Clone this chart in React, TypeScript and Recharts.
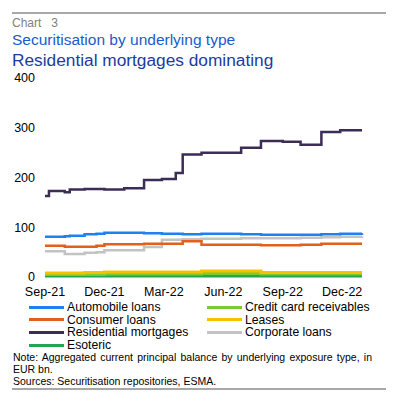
import React from "react";
import { LineChart, Line, XAxis, YAxis } from "recharts";

// months after Sep-21 where a step starts
const monthOffsets = [0, 0.2, 1.0, 1.25, 2.0, 2.6, 3.0, 4.0, 5.0, 5.9, 6.6, 6.95, 7.9, 9.9, 10.9, 12.0, 12.9, 13.95, 14.9, 16.0];

const residential = [163, 173, 170.5, 176, 177, 177, 176, 178.5, 195, 197, 209, 246, 250, 260, 273.5, 272, 266, 291.5, 295, 295];
const automobile = [81, 81, 82, 83, 86, 87, 89, 89, 88, 87, 87, 86, 87, 86, 85, 85, 85, 86, 87, 88];
const consumer = [63, 63, 61, 61, 61, 63, 66, 66, 67, 67, 67, 72, 65, 65, 64, 64, 65, 67, 67, 67];
const corporate = [52, 52, 46, 46, 48.5, 50, 54, 54, 60.5, 75, 75, 76, 77, 78, 78, 78, 79, 80, 81, 82];
const leases = [8, 8, 8, 8, 9, 9, 10, 10, 10, 10, 10, 10, 12, 12, 9, 9, 9, 9, 9, 9];
const creditCard = [5, 5, 5, 5, 5, 5, 6, 6, 6, 6, 6, 6, 7, 7, 6, 6, 6, 6, 6, 6];
const esoteric = [2, 2, 2, 2, 2, 2, 2, 2, 2, 2, 2, 2, 2, 2, 2, 2, 2, 2, 2, 2];

const xTicks = [0, 3, 6, 9, 12, 15];
const xTickLabels = ["Sep-21", "Dec-21", "Mar-22", "Jun-22", "Sep-22", "Dec-22"];
const yTicks = [0, 100, 200, 300, 400];

const data = monthOffsets.map((m, i) => ({
  m,
  residential: residential[i],
  automobile: automobile[i],
  consumer: consumer[i],
  corporate: corporate[i],
  leases: leases[i],
  creditCard: creditCard[i],
  esoteric: esoteric[i],
}));

const legendLeft = [
  { name: "Automobile loans", color: "#1f80f0" },
  { name: "Consumer loans", color: "#e0601c" },
  { name: "Residential mortgages", color: "#3b2d55" },
  { name: "Esoteric", color: "#1fa84f" },
];
const legendRight = [
  { name: "Credit card receivables", color: "#7ccb2e" },
  { name: "Leases", color: "#f5c200" },
  { name: "Corporate loans", color: "#c3c3c3" },
];

const font = "'Liberation Sans', Arial, sans-serif";

function LegendItem({ name, color, x, y }: { name: string; color: string; x: number; y: number }) {
  return (
    <div style={{ position: "absolute", left: x, top: y - 6, height: 12, lineHeight: "12px", display: "flex", alignItems: "center" }}>
      <div style={{ width: 35, height: 3, background: color, marginRight: 3 }} />
      <span style={{ fontSize: 12.2, color: "#000", whiteSpace: "nowrap" }}>{name}</span>
    </div>
  );
}

export default function App() {
  return (
    <div style={{ position: "absolute", left: 0, top: 0, width: 400, height: 401, background: "#fff", fontFamily: font }}>
      <div style={{ position: "absolute", left: 12, top: 12, width: 374, height: 2, background: "#a8a8a8" }} />
      <div style={{ position: "absolute", left: 12, top: 16, fontSize: 12, color: "#7f7f7f", whiteSpace: "pre" }}>Chart   3</div>
      <div style={{ position: "absolute", left: 12, top: 31, fontSize: 15.5, color: "#1a5bcc", whiteSpace: "nowrap" }}>
        Securitisation by underlying type
      </div>
      <div style={{ position: "absolute", left: 12, top: 50, fontSize: 17.3, color: "#1c3c9e", whiteSpace: "nowrap" }}>
        Residential mortgages dominating
      </div>

      <div style={{ position: "absolute", left: 0, top: 0 }}>
        <LineChart width={400} height={300} data={data} margin={{ top: 78, right: 38, left: 0, bottom: 3 }}>
          <XAxis
            dataKey="m"
            type="number"
            domain={[0, 16]}
            ticks={xTicks}
            tickFormatter={(v: number) => xTickLabels[xTicks.indexOf(v)]}
            axisLine={false}
            tickLine={false}
            interval={0}
            height={20}
            tick={{ fill: "#000", fontSize: 12.5, fontFamily: font }}
            tickMargin={4}
          />
          <YAxis
            domain={[0, 400]}
            ticks={yTicks}
            axisLine={false}
            tickLine={false}
            width={45}
            tick={{ fill: "#000", fontSize: 12.5, fontFamily: font }}
            tickMargin={4}
          />
          <Line type="stepAfter" dataKey="esoteric" stroke="#1fa84f" strokeWidth={3} dot={false} isAnimationActive={false} />
          <Line type="stepAfter" dataKey="creditCard" stroke="#7ccb2e" strokeWidth={3} dot={false} isAnimationActive={false} />
          <Line type="stepAfter" dataKey="leases" stroke="#f5c200" strokeWidth={3} dot={false} isAnimationActive={false} />
          <Line type="stepAfter" dataKey="corporate" stroke="#c3c3c3" strokeWidth={2.5} dot={false} isAnimationActive={false} />
          <Line type="stepAfter" dataKey="consumer" stroke="#e0601c" strokeWidth={2.5} dot={false} isAnimationActive={false} />
          <Line type="stepAfter" dataKey="automobile" stroke="#1f80f0" strokeWidth={2.5} dot={false} isAnimationActive={false} />
          <Line type="stepAfter" dataKey="residential" stroke="#3b2d55" strokeWidth={2.5} dot={false} isAnimationActive={false} />
        </LineChart>
      </div>

      {legendLeft.map((it, i) => (
        <LegendItem key={it.name} name={it.name} color={it.color} x={29} y={307 + i * 12.7} />
      ))}
      {legendRight.map((it, i) => (
        <LegendItem key={it.name} name={it.name} color={it.color} x={207} y={307 + i * 12.7} />
      ))}

      <div style={{ position: "absolute", left: 13, top: 351, width: 359, fontSize: 10.5, lineHeight: "12px", color: "#000" }}>
        <div style={{ textAlign: "justify", textAlignLast: "justify", whiteSpace: "nowrap" }}>
          Note: Aggregated current principal balance by underlying exposure type, in
        </div>
        <div>EUR bn.</div>
        <div>Sources: Securitisation repositories, ESMA.</div>
      </div>
      <div style={{ position: "absolute", left: 12, top: 388, width: 374, height: 2, background: "#a8a8a8" }} />
    </div>
  );
}
